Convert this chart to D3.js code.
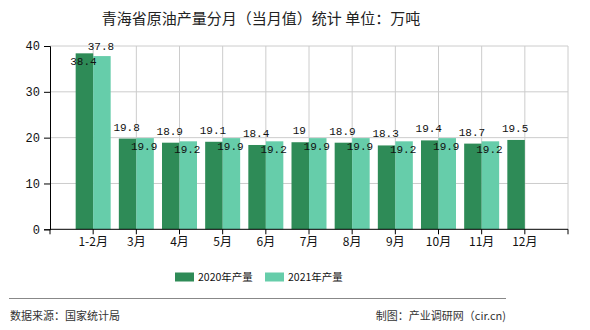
<!DOCTYPE html>
<html><head><meta charset="utf-8">
<script src="https://cdn.jsdelivr.net/npm/d3@7"></script>
<style>body{margin:0;background:#fff}svg{display:block}</style>
</head><body><div id="c"></div>
<script>
const categories = ["1-2月","3月","4月","5月","6月","7月","8月","9月","10月","11月","12月"];
const series2020 = [38.4,19.8,18.9,19.1,18.4,19,18.9,18.3,19.4,18.7,19.5];
const series2021 = [37.8,19.9,19.2,19.9,19.2,19.9,19.9,19.2,19.9,19.2,null];
const seriesNames = ["2020年产量","2021年产量"];
const yTicks = [0,10,20,30,40];
const colors = ["#2E8B57","#66CDAA"];

const W=590,H=330;
const svg=d3.select("#c").append("svg").attr("width",W).attr("height",H);
const cjk='"Noto Sans CJK SC","Noto Sans",sans-serif';
const mono='"Liberation Mono","DejaVu Sans Mono",monospace';

svg.append("text").attr("x",261).attr("y",24).attr("text-anchor","middle")
 .attr("font-family",cjk).attr("font-size",15).attr("fill","#222")
 .text("青海省原油产量分月（当月值）统计 单位：万吨");

const L=50,R=568,T=46,B=229.3;
const x=d3.scalePoint().domain(categories).range([L,R]).padding(1);
const y=d3.scaleLinear().domain([0,40]).range([B,T]);
const inner=d3.scaleBand().domain(seriesNames).range([-17.5,17.5]);

const g=svg.append("g");
g.selectAll(".hg").data(yTicks.filter(d=>d>0)).join("line")
 .attr("x1",L).attr("x2",R).attr("y1",d=>y(d)).attr("y2",d=>y(d))
 .attr("stroke","#ccc").attr("stroke-width",1);
const vpos=categories.map(c=>x(c)).concat([R]);
g.selectAll(".vg").data(vpos).join("line")
 .attr("x1",d=>d).attr("x2",d=>d).attr("y1",T).attr("y2",B)
 .attr("stroke","#ccc").attr("stroke-width",1);

const data=categories.map((c,i)=>({c,vals:[series2020[i],series2021[i]]}));
data.forEach(d=>{
  d.vals.forEach((v,k)=>{
    if(v==null) return;
    g.append("rect").attr("x",x(d.c)+inner(seriesNames[k])).attr("width",inner.bandwidth())
     .attr("y",y(v)).attr("height",B-y(v)).attr("fill",colors[k]);
  });
});
data.forEach(d=>{
  d.vals.forEach((v,k)=>{
    if(v==null) return;
    const other=d.vals[1-k];
    const inside = other!=null && v>other;
    const yy = inside ? y(v)+12 : Math.max(y(v)-8, 50);
    g.append("text").attr("x",x(d.c)+inner(seriesNames[k])+inner.bandwidth()/2-1).attr("y",yy)
     .attr("text-anchor","middle").attr("font-family",mono).attr("font-size",11).attr("fill","#111")
     .text(v);
  });
});

const ya=d3.axisLeft(y).tickValues(yTicks).tickSize(6).tickPadding(4);
const yg=svg.append("g").attr("transform",`translate(${L},0)`).call(ya);
yg.select(".domain").attr("stroke","#000");
yg.selectAll("text").attr("font-family",mono).attr("font-size",12).attr("fill","#111");
const xg=svg.append("g");
xg.append("line").attr("x1",L).attr("x2",R).attr("y1",B).attr("y2",B).attr("stroke","#000");
xg.selectAll(".xt").data([L].concat(vpos)).join("line")
 .attr("x1",d=>d).attr("x2",d=>d).attr("y1",B).attr("y2",B+5).attr("stroke","#000");
xg.selectAll(".xl").data(categories).join("text")
 .attr("x",d=>x(d)).attr("y",B+17).attr("text-anchor","middle")
 .attr("font-family",cjk).attr("font-size",12).attr("fill","#111").text(d=>d);

const leg=[{x:175,t:seriesNames[0],c:colors[0]},{x:265,t:seriesNames[1],c:colors[1]}];
leg.forEach(l=>{
  svg.append("rect").attr("x",l.x).attr("y",272.5).attr("width",19).attr("height",9).attr("fill",l.c);
  svg.append("text").attr("x",l.x+23).attr("y",281).attr("font-family",cjk).attr("font-size",10.5)
   .attr("fill","#111").text(l.t);
});
svg.append("line").attr("x1",9).attr("x2",506).attr("y1",298.5).attr("y2",298.5).attr("stroke","#888");
svg.append("text").attr("x",10).attr("y",320).attr("font-family",cjk).attr("font-size",11)
 .attr("fill","#333").text("数据来源：国家统计局");
svg.append("text").attr("x",506).attr("y",320).attr("text-anchor","end").attr("font-family",cjk).attr("font-size",11)
 .attr("fill","#333").text("制图：产业调研网（cir.cn)");
</script></body></html>
